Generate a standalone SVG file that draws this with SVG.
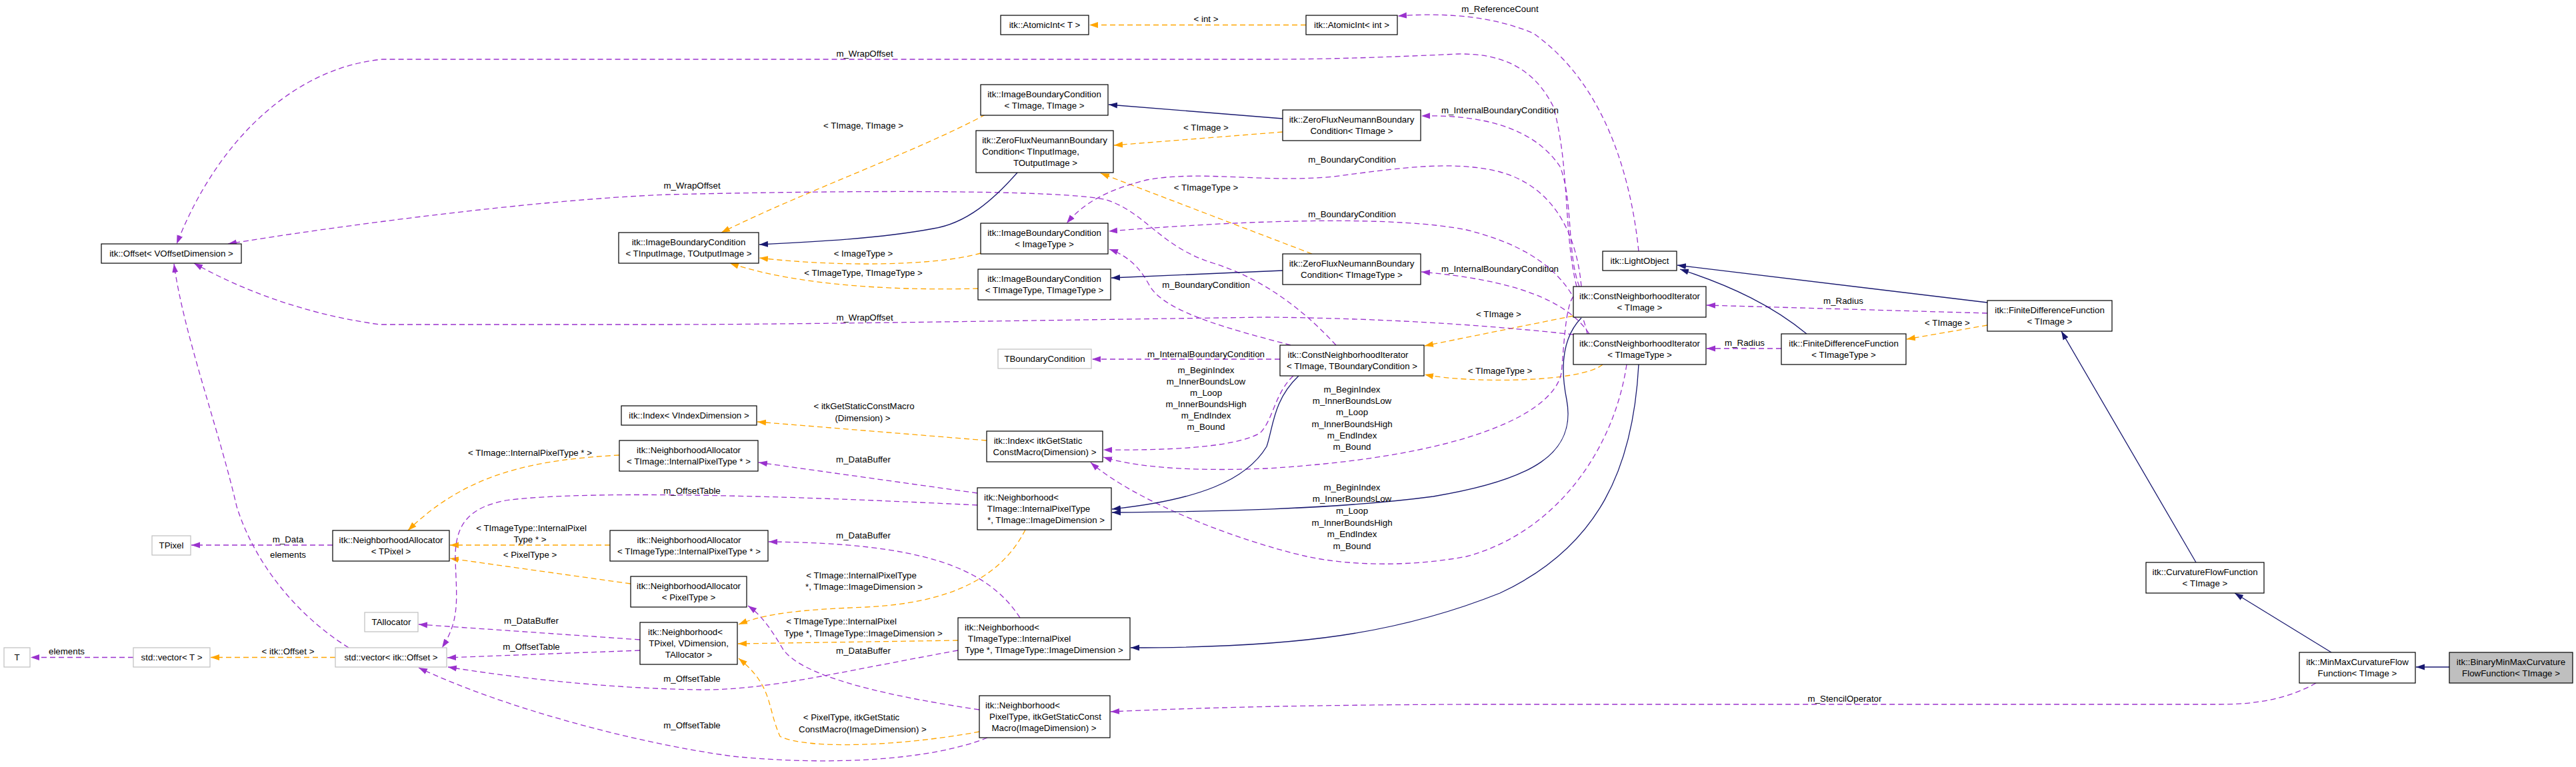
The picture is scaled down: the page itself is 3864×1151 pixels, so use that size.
<svg xmlns="http://www.w3.org/2000/svg" width="3864" height="1151" viewBox="0 0 3864 1151">
<style>
text{font-family:"Liberation Sans",Arial,Helvetica,sans-serif;font-size:13.3px;fill:#000;text-anchor:middle}
.n rect{fill:#fff;stroke:#000;stroke-width:1.2}
.g rect{fill:#fff;stroke:#bfbfbf;stroke-width:1.2}
.r rect{fill:#bfbfbf;stroke:#000;stroke-width:1.2}
.e{fill:none;stroke-width:1.3}
.p{stroke:#9a32cd;stroke-dasharray:8,5;marker-end:url(#ap)}
.o{stroke:#ffa500;stroke-dasharray:8,5;marker-end:url(#ao)}
.b{stroke:#191970;marker-end:url(#ab)}
</style>
<defs>
<marker id="ap" markerWidth="14" markerHeight="10" refX="13" refY="5" orient="auto" markerUnits="userSpaceOnUse"><path d="M0,0.5 L13,5 L0,9.5 z" fill="#9a32cd"/></marker>
<marker id="ao" markerWidth="14" markerHeight="10" refX="13" refY="5" orient="auto" markerUnits="userSpaceOnUse"><path d="M0,0.5 L13,5 L0,9.5 z" fill="#ffa500"/></marker>
<marker id="ab" markerWidth="14" markerHeight="10" refX="13" refY="5" orient="auto" markerUnits="userSpaceOnUse"><path d="M0,0.5 L13,5 L0,9.5 z" fill="#191970"/></marker>
</defs>
<rect width="3864" height="1151" fill="#fff"/>
<g id="connectors">
<path class="e o" d="M1959,37.5 L1634,37.5"/>
<path class="e o" d="M1478,172 C1380,225 1200,290 1082,349"/>
<path class="e o" d="M1471,380 C1400,400 1250,400 1139,387"/>
<path class="e o" d="M1467,433 C1350,436 1200,430 1095,395"/>
<path class="e o" d="M1924,198 L1671,218"/>
<path class="e o" d="M1968,381 L1651,260"/>
<path class="e o" d="M2360,474 L2137,519"/>
<path class="e o" d="M2404,547 C2370,575 2200,575 2137,562"/>
<path class="e o" d="M2981,488 L2860,509"/>
<path class="e o" d="M1480,661 L1136,633"/>
<path class="e o" d="M929,683 C800,690 700,710 612,796"/>
<path class="e o" d="M915,818 L675,818"/>
<path class="e o" d="M946,876 L675,838"/>
<path class="e o" d="M1538,795 C1500,870 1420,905 1300,911 C1200,915 1150,920 1108,937"/>
<path class="e o" d="M1437,961 L1107,966"/>
<path class="e o" d="M1469,1098 C1350,1120 1210,1125 1170,1105 C1150,1060 1160,1030 1108,988"/>
<path class="e o" d="M503,986.5 L316,986.5"/>
<path class="e p" d="M200,986.5 L46,986.5"/>
<path class="e p" d="M499,818 L287,818"/>
<path class="e p" d="M523,972 C440,920 380,840 355,760 C330,650 275,500 261,396"/>
<path class="e p" d="M960,960 L628,937"/>
<path class="e p" d="M960,976 L671,987"/>
<path class="e p" d="M1466,758 C1200,745 900,735 765,750 C700,760 682,790 683,840 C685,900 690,930 663,972"/>
<path class="e p" d="M1437,976 C1250,1010 1150,1036 1050,1035 C900,1033 760,1015 672,1001"/>
<path class="e p" d="M1481,1107 C1400,1140 1250,1150 1100,1135 C950,1115 750,1060 628,1002"/>
<path class="e p" d="M1466,740 L1138,694"/>
<path class="e p" d="M1530,927 C1480,850 1380,815 1153,813"/>
<path class="e p" d="M1469,1065 C1300,1040 1200,1010 1175,975 C1160,950 1145,925 1122,909"/>
<path class="e p" d="M3474,1025 C3430,1050 3380,1057 3330,1057 L2200,1057 C1950,1058 1800,1062 1666,1068"/>
<path class="e p" d="M2458,377 C2445,250 2400,120 2300,50 C2230,20 2150,20 2097,24"/>
<path class="e p" d="M2981,470 L2560,458"/>
<path class="e p" d="M2672,523 L2560,523"/>
<path class="e p" d="M1920,539 L1638,539"/>
<path class="e p" d="M1936,518 C1850,495 1750,470 1725,430 C1712,405 1695,385 1664,374"/>
<path class="e p" d="M2372,430 C2365,350 2330,280 2250,258 C2180,240 2100,252 2000,265 C1900,275 1800,255 1720,270 C1660,285 1625,305 1600,335"/>
<path class="e p" d="M2381,501 C2365,430 2320,375 2200,345 C2100,325 1900,328 1663,347"/>
<path class="e p" d="M2369,430 C2350,380 2360,300 2340,250 C2300,190 2220,172 2132,174"/>
<path class="e p" d="M2384,501 C2350,450 2270,420 2132,408"/>
<path class="e p" d="M2365,430 C2345,350 2355,250 2330,160 C2300,100 2250,80 2187,81 C2100,85 2000,89 1900,89 L574,89 C450,100 330,200 265,366"/>
<path class="e p" d="M2004,518 C1960,470 1900,420 1820,395 C1740,370 1720,320 1660,300 C1600,285 1300,285 1000,292 C800,300 500,340 342,366"/>
<path class="e p" d="M2360,502 C2250,490 2100,478 1900,476 C1600,480 1200,487 1000,487 L570,487 C480,475 380,445 291,395"/>
<path class="e p" d="M1940,564 C1912,590 1910,630 1890,650 C1850,672 1750,676 1655,675"/>
<path class="e p" d="M2360,445 C2348,460 2346,520 2342,560 C2330,620 2200,685 1900,703 C1780,708 1700,700 1655,686"/>
<path class="e p" d="M2440,547 C2420,680 2330,800 2200,835 C2120,850 2030,850 1960,835 C1850,810 1700,750 1636,694"/>
<path class="e b" d="M1526,259 C1490,300 1450,335 1400,343 C1320,358 1220,363 1139,367"/>
<path class="e b" d="M1924,178 L1663,157"/>
<path class="e b" d="M1924,406 L1667,417"/>
<path class="e b" d="M1948,564 C1910,600 1910,640 1900,670 C1870,720 1800,750 1668,764"/>
<path class="e b" d="M2372,477 C2340,510 2342,560 2350,600 C2365,680 2300,720 2150,745 C2000,765 1800,768 1668,769"/>
<path class="e b" d="M2458,547 C2450,700 2400,820 2250,890 C2100,950 1950,972 1696,972"/>
<path class="e b" d="M2981,454 L2516,398"/>
<path class="e b" d="M2710,501 C2660,460 2600,430 2520,404"/>
<path class="e b" d="M3294,844 L3092,497"/>
<path class="e b" d="M3497,979 L3352,890"/>
<path class="e b" d="M3674,1001 L3624,1001"/>
<text x="1809" y="33">&lt; int &gt;</text>
<text x="2250" y="18">m_ReferenceCount</text>
<text x="1297" y="85">m_WrapOffset</text>
<text x="1295" y="193">&lt; TImage, TImage &gt;</text>
<text x="1809" y="196">&lt; TImage &gt;</text>
<text x="2250" y="170">m_InternalBoundaryCondition</text>
<text x="2028" y="244">m_BoundaryCondition</text>
<text x="1038" y="283">m_WrapOffset</text>
<text x="1809" y="286">&lt; TImageType &gt;</text>
<text x="2028" y="326">m_BoundaryCondition</text>
<text x="1295" y="385">&lt; ImageType &gt;</text>
<text x="2250" y="408">m_InternalBoundaryCondition</text>
<text x="1295" y="414">&lt; TImageType, TImageType &gt;</text>
<text x="1809" y="432">m_BoundaryCondition</text>
<text x="2765" y="456">m_Radius</text>
<text x="2248" y="476">&lt; TImage &gt;</text>
<text x="1297" y="481">m_WrapOffset</text>
<text x="2921" y="489">&lt; TImage &gt;</text>
<text x="2617" y="519">m_Radius</text>
<text x="1809" y="536">m_InternalBoundaryCondition</text>
<text x="2250" y="561">&lt; TImageType &gt;</text>
<text x="1809" y="560">m_BeginIndex</text>
<text x="1809" y="577">m_InnerBoundsLow</text>
<text x="1809" y="594">m_Loop</text>
<text x="1809" y="611">m_InnerBoundsHigh</text>
<text x="1809" y="628">m_EndIndex</text>
<text x="1809" y="645">m_Bound</text>
<text x="2028" y="589">m_BeginIndex</text>
<text x="2028" y="606">m_InnerBoundsLow</text>
<text x="2028" y="623">m_Loop</text>
<text x="2028" y="641">m_InnerBoundsHigh</text>
<text x="2028" y="658">m_EndIndex</text>
<text x="2028" y="675">m_Bound</text>
<text x="2028" y="736">m_BeginIndex</text>
<text x="2028" y="753">m_InnerBoundsLow</text>
<text x="2028" y="771">m_Loop</text>
<text x="2028" y="789">m_InnerBoundsHigh</text>
<text x="2028" y="806">m_EndIndex</text>
<text x="2028" y="824">m_Bound</text>
<text x="1296" y="614">&lt; itkGetStaticConstMacro</text>
<text x="1294" y="632">(Dimension) &gt;</text>
<text x="795" y="684">&lt; TImage::InternalPixelType * &gt;</text>
<text x="1295" y="694">m_DataBuffer</text>
<text x="1038" y="741">m_OffsetTable</text>
<text x="797" y="797">&lt; TImageType::InternalPixel</text>
<text x="795" y="814">Type * &gt;</text>
<text x="432" y="814">m_Data</text>
<text x="1295" y="808">m_DataBuffer</text>
<text x="795" y="837">&lt; PixelType &gt;</text>
<text x="432" y="837">elements</text>
<text x="1292" y="868">&lt; TImage::InternalPixelType</text>
<text x="1296" y="885">*, TImage::ImageDimension &gt;</text>
<text x="797" y="936">m_DataBuffer</text>
<text x="1262" y="937">&lt; TImageType::InternalPixel</text>
<text x="1295" y="955">Type *, TImageType::ImageDimension &gt;</text>
<text x="797" y="975">m_OffsetTable</text>
<text x="1295" y="981">m_DataBuffer</text>
<text x="100" y="982">elements</text>
<text x="432" y="982">&lt; itk::Offset &gt;</text>
<text x="1038" y="1023">m_OffsetTable</text>
<text x="2767" y="1053">m_StencilOperator</text>
<text x="1277" y="1081">&lt; PixelType, itkGetStatic</text>
<text x="1294" y="1099">ConstMacro(ImageDimension) &gt;</text>
<text x="1038" y="1093">m_OffsetTable</text>
</g>
<g id="node-offset" class="n"><rect x="152" y="366" width="210" height="29"/><text x="257" y="385">itk::Offset&lt; VOffsetDimension &gt;</text></g>
<g id="node-atomicint-t" class="n"><rect x="1501" y="23" width="132" height="29"/><text x="1567" y="42">itk::AtomicInt&lt; T &gt;</text></g>
<g id="node-atomicint-int" class="n"><rect x="1959" y="23" width="137" height="29"/><text x="2027.5" y="42">itk::AtomicInt&lt; int &gt;</text></g>
<g id="node-ibc-timage-timage" class="n"><rect x="1471" y="127" width="191" height="46"/><text x="1566.5" y="146">itk::ImageBoundaryCondition</text><text x="1566.5" y="163">&lt; TImage, TImage &gt;</text></g>
<g id="node-zf-tin-tout" class="n"><rect x="1464" y="196" width="206" height="63"/><text x="1567" y="215">itk::ZeroFluxNeumannBoundary</text><text x="1546" y="232">Condition&lt; TInputImage,</text><text x="1568" y="249">TOutputImage &gt;</text></g>
<g id="node-zf-timage" class="n"><rect x="1924" y="165" width="207" height="46"/><text x="2027.5" y="184">itk::ZeroFluxNeumannBoundary</text><text x="2027.5" y="201">Condition&lt; TImage &gt;</text></g>
<g id="node-ibc-tin-tout" class="n"><rect x="928" y="349" width="210" height="46"/><text x="1033" y="368">itk::ImageBoundaryCondition</text><text x="1033" y="385">&lt; TInputImage, TOutputImage &gt;</text></g>
<g id="node-ibc-imagetype" class="n"><rect x="1471" y="335" width="191" height="46"/><text x="1566.5" y="354">itk::ImageBoundaryCondition</text><text x="1566.5" y="371">&lt; ImageType &gt;</text></g>
<g id="node-ibc-timagetype" class="n"><rect x="1467" y="404" width="199" height="46"/><text x="1566.5" y="423">itk::ImageBoundaryCondition</text><text x="1566.5" y="440">&lt; TImageType, TImageType &gt;</text></g>
<g id="node-zf-timagetype" class="n"><rect x="1924" y="381" width="207" height="46"/><text x="2027.5" y="400">itk::ZeroFluxNeumannBoundary</text><text x="2027.5" y="417">Condition&lt; TImageType &gt;</text></g>
<g id="node-lightobject" class="n"><rect x="2404" y="377" width="111" height="29"/><text x="2459.5" y="396">itk::LightObject</text></g>
<g id="node-cni-timage" class="n"><rect x="2360" y="430" width="199" height="46"/><text x="2459.5" y="449">itk::ConstNeighborhoodIterator</text><text x="2459.5" y="466">&lt; TImage &gt;</text></g>
<g id="node-cni-timagetype" class="n"><rect x="2360" y="501" width="199" height="46"/><text x="2459.5" y="520">itk::ConstNeighborhoodIterator</text><text x="2459.5" y="537">&lt; TImageType &gt;</text></g>
<g id="node-fdf-timagetype" class="n"><rect x="2672" y="501" width="187" height="46"/><text x="2765.5" y="520">itk::FiniteDifferenceFunction</text><text x="2765.5" y="537">&lt; TImageType &gt;</text></g>
<g id="node-fdf-timage" class="n"><rect x="2981" y="451" width="187" height="46"/><text x="3074.5" y="470">itk::FiniteDifferenceFunction</text><text x="3074.5" y="487">&lt; TImage &gt;</text></g>
<g id="node-tboundarycondition" class="g"><rect x="1497" y="524" width="140" height="29"/><text x="1567" y="543">TBoundaryCondition</text></g>
<g id="node-cni-timage-tbc" class="n"><rect x="1920" y="518" width="216" height="46"/><text x="2022" y="537">itk::ConstNeighborhoodIterator</text><text x="2028" y="554">&lt; TImage, TBoundaryCondition &gt;</text></g>
<g id="node-index-vindexdimension" class="n"><rect x="932" y="609" width="203" height="29"/><text x="1033.5" y="628">itk::Index&lt; VIndexDimension &gt;</text></g>
<g id="node-index-static" class="n"><rect x="1480" y="647" width="174" height="46"/><text x="1557" y="666">itk::Index&lt; itkGetStatic</text><text x="1567" y="683">ConstMacro(Dimension) &gt;</text></g>
<g id="node-na-timage-ipt" class="n"><rect x="929" y="661" width="208" height="46"/><text x="1033" y="680">itk::NeighborhoodAllocator</text><text x="1033" y="697">&lt; TImage::InternalPixelType * &gt;</text></g>
<g id="node-n-timage-ipt" class="n"><rect x="1466" y="732" width="201" height="63"/><text x="1532" y="751">itk::Neighborhood&lt;</text><text x="1558" y="768">TImage::InternalPixelType</text><text x="1569" y="785">*, TImage::ImageDimension &gt;</text></g>
<g id="node-na-tpixel" class="n"><rect x="499" y="796" width="175" height="46"/><text x="586.5" y="815">itk::NeighborhoodAllocator</text><text x="586.5" y="832">&lt; TPixel &gt;</text></g>
<g id="node-tpixel" class="g"><rect x="228" y="804" width="58" height="29"/><text x="257" y="823">TPixel</text></g>
<g id="node-na-timagetype-ipt" class="n"><rect x="915" y="796" width="237" height="46"/><text x="1033.5" y="815">itk::NeighborhoodAllocator</text><text x="1033.5" y="832">&lt; TImageType::InternalPixelType * &gt;</text></g>
<g id="node-na-pixeltype" class="n"><rect x="946" y="865" width="174" height="46"/><text x="1033" y="884">itk::NeighborhoodAllocator</text><text x="1033" y="901">&lt; PixelType &gt;</text></g>
<g id="node-tallocator" class="g"><rect x="547" y="919" width="80" height="29"/><text x="587" y="938">TAllocator</text></g>
<g id="node-n-tpixel" class="n"><rect x="960" y="934" width="146" height="63"/><text x="1028" y="953">itk::Neighborhood&lt;</text><text x="1033" y="970">TPixel, VDimension,</text><text x="1033" y="987">TAllocator &gt;</text></g>
<g id="node-n-timagetype-ipt" class="n"><rect x="1437" y="927" width="258" height="63"/><text x="1503" y="946">itk::Neighborhood&lt;</text><text x="1529" y="963">TImageType::InternalPixel</text><text x="1566" y="980">Type *, TImageType::ImageDimension &gt;</text></g>
<g id="node-n-pixeltype" class="n"><rect x="1469" y="1044" width="196" height="63"/><text x="1534" y="1063">itk::Neighborhood&lt;</text><text x="1568" y="1080">PixelType, itkGetStaticConst</text><text x="1566" y="1097">Macro(ImageDimension) &gt;</text></g>
<g id="node-t" class="g"><rect x="6" y="972" width="39" height="29"/><text x="25.5" y="991">T</text></g>
<g id="node-vector-t" class="g"><rect x="200" y="972" width="115" height="29"/><text x="257.5" y="991">std::vector&lt; T &gt;</text></g>
<g id="node-vector-offset" class="g"><rect x="503" y="972" width="167" height="29"/><text x="586.5" y="991">std::vector&lt; itk::Offset &gt;</text></g>
<g id="node-curvatureflow" class="n"><rect x="3219" y="844" width="177" height="46"/><text x="3307.5" y="863">itk::CurvatureFlowFunction</text><text x="3307.5" y="880">&lt; TImage &gt;</text></g>
<g id="node-minmax" class="n"><rect x="3449" y="979" width="174" height="46"/><text x="3536" y="998">itk::MinMaxCurvatureFlow</text><text x="3536" y="1015">Function&lt; TImage &gt;</text></g>
<g id="node-binaryminmax" class="r"><rect x="3674" y="979" width="185" height="46"/><text x="3766.5" y="998">itk::BinaryMinMaxCurvature</text><text x="3766.5" y="1015">FlowFunction&lt; TImage &gt;</text></g>
</svg>
